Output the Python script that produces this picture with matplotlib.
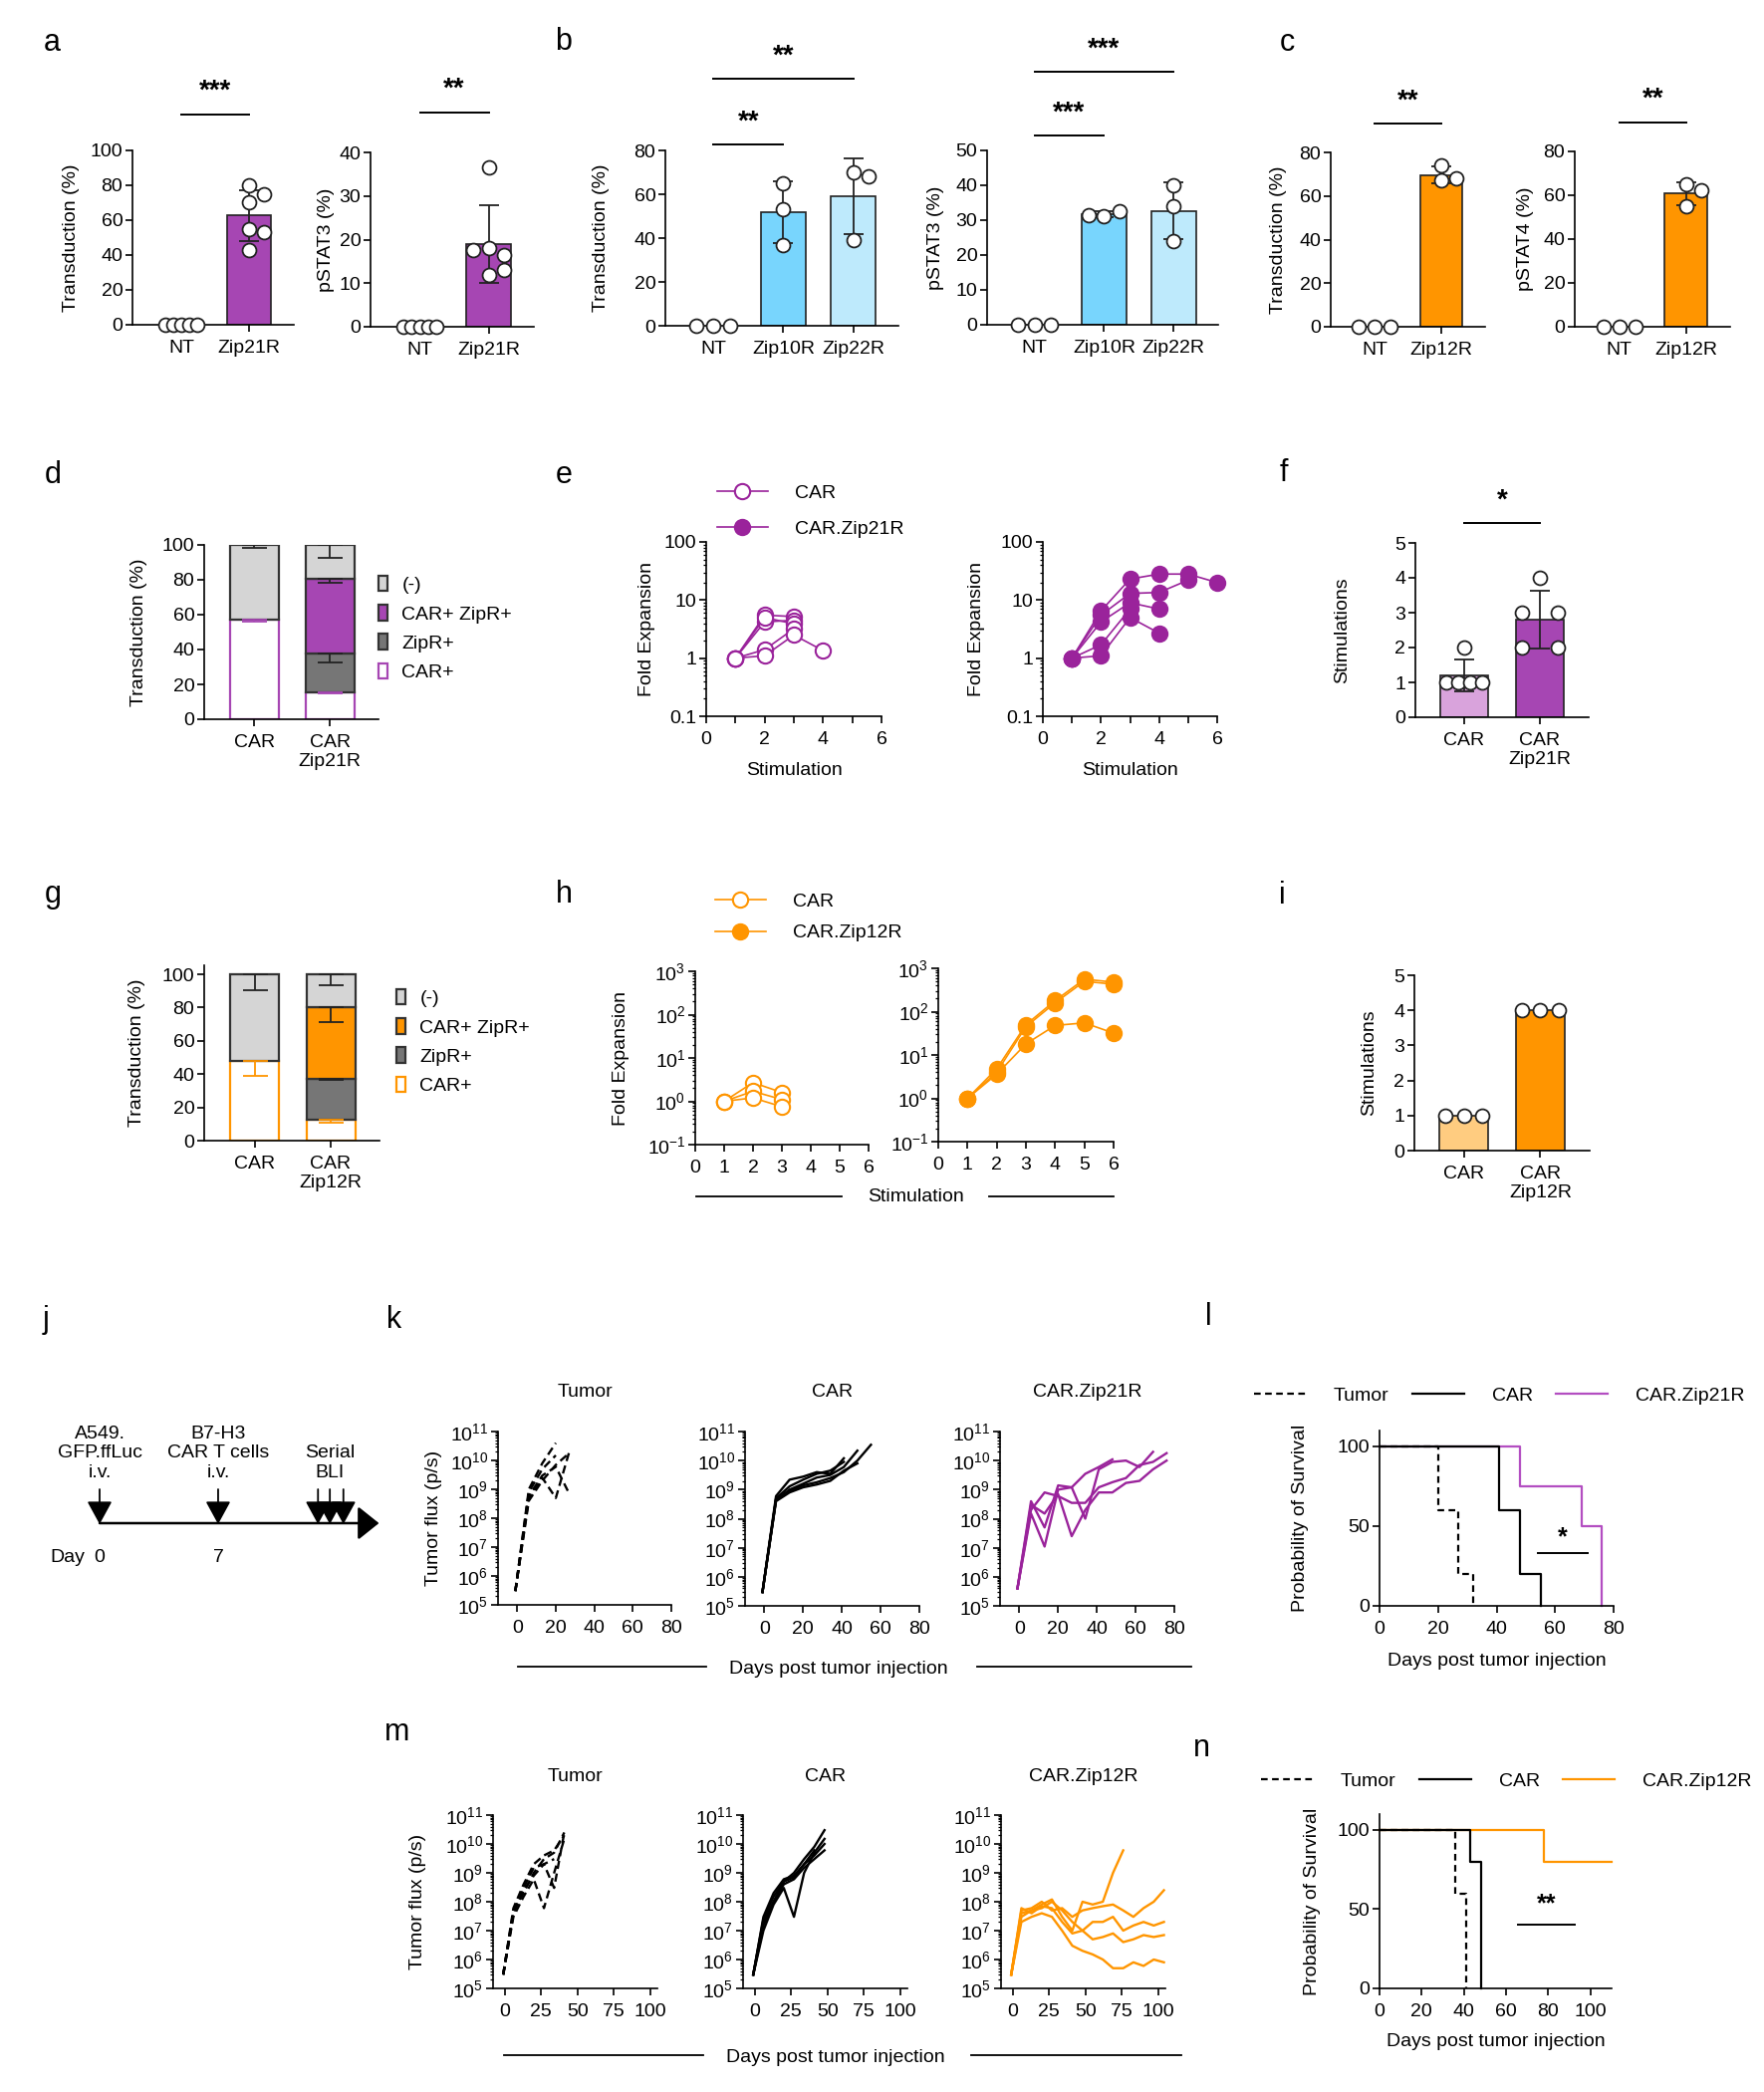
import numpy as np
import matplotlib
matplotlib.use("Agg")
import matplotlib.pyplot as plt
from matplotlib.lines import Line2D
from matplotlib.patches import Patch
from matplotlib.ticker import LogLocator, NullFormatter, LogFormatterMathtext

plt.rcParams['font.family'] = ['Liberation Sans', 'DejaVu Sans']
plt.rcParams['mathtext.fontset'] = 'custom'
plt.rcParams['mathtext.rm'] = 'Liberation Sans'
plt.rcParams['mathtext.default'] = 'regular'
plt.rcParams['axes.linewidth'] = 1.2
plt.rcParams['font.size'] = 14

FS = 14

# ---------------- data ----------------
# a
a_labels = ['NT', 'Zip21R']
a_trans = [[0, 0, 0, 0, 0], [80, 75, 70, 55, 53, 43]]
a_pstat3 = [[0, 0, 0, 0, 0], [36.5, 18, 16.5, 17.5, 12, 13]]
# b
b_labels = ['NT', 'Zip10R', 'Zip22R']
b_trans = [[0, 0, 0], [65, 53, 37], [70, 68, 39]]
b_pstat3 = [[0, 0, 0], [31, 32.5, 31.5], [40, 34, 24]]
# c
c_labels = ['NT', 'Zip12R']
c_trans = [[0, 0, 0], [74, 67, 68]]
c_pstat4 = [[0, 0, 0], [65, 62.5, 55]]
# d / g stacked bars (CAR+, ZipR+, CAR+ ZipR+, (-))
d_labels = ['CAR', 'CAR\nZip21R']
d_means = [[57, 15.5], [0, 22], [0, 43], [43, 19.5]]
d_errs = [[1, 0.5], [0, 5], [0, 2], [2, 7.5]]
g_labels = ['CAR', 'CAR\nZip12R']
g_means = [[48, 12.5], [0, 24.5], [0, 43], [52, 20]]
g_errs = [[9, 1.5], [0, 0.5], [0, 8.5], [9.5, 6.5]]
# e / h fold expansion per stimulation
stim = [1, 2, 3, 4, 5, 6]
e_car = [[1, 5.5, 5.2], [1, 4.2, 4.5], [1, 5.0, 3.9], [1, 1.4, 3.2], [1, 1.1, 2.5, 1.35]]
e_zip = [[1, 6.5, 23, 28, 28, 20], [1, 5.5, 13, 13.5, 22], [1, 4.2, 9, 7], [1, 1.7, 7], [1, 1.1, 5, 2.7]]
h_car = [[1, 2.7, 1.6], [1, 1.7, 1.1], [1, 1.2, 0.75]]
h_zip = [[1, 4.8, 50, 180, 560, 480], [1, 4.0, 45, 160, 500, 430], [1, 3.6, 18, 48, 55, 32]]
# f / i stimulations
f_labels = ['CAR', 'CAR\nZip21R']
f_stims = [[2, 1, 1, 1, 1], [4, 3, 3, 2, 2]]
i_labels = ['CAR', 'CAR\nZip12R']
i_stims = [[1, 1, 1], [4, 4, 4]]
# j schedule
j_events = ['A549.\nGFP.ffLuc\ni.v.', 'B7-H3\nCAR T cells\ni.v.', 'Serial\nBLI']
j_event_days = [0, 7, 13.6]
j_tick_days = [0, 7]
j_bli_days = [12.9, 13.6, 14.4]
# k tumor flux
k_days = [-1, 6, 13, 20, 27, 34, 41, 48, 55, 62, 69, 76]
k_tumor = [[3e5, 1e9, 8e9, 4e10],
           [3e5, 6e8, 3e9, 6e9, 7e8],
           [3e5, 5e8, 2.5e9, 5e8, 2e10],
           [3e5, 8e8, 5e9, 1.5e10],
           [3e5, 4e8, 2e9, 7e9, 1.8e10]]
k_car = [[3e5, 6e8, 2.2e9, 2.8e9, 4e9, 3.5e9, 1.2e10],
         [3e5, 5e8, 1.3e9, 2.2e9, 3.5e9, 4.5e9, 9e9],
         [3e5, 4.5e8, 1e9, 1.6e9, 2.6e9, 3.2e9, 6e9, 2.2e10],
         [3e5, 4e8, 8e8, 1.2e9, 1.5e9, 2e9, 4.5e9, 8e9],
         [3e5, 4.5e8, 9e8, 1.4e9, 1.8e9, 2.5e9, 4e9, 1e10, 3.5e10]]
k_zip = [[4e5, 1.5e8, 1.1e7, 1.0e9, 1.2e9, 3.5e9, 6e9, 1.1e10],
         [4e5, 4e8, 5e7, 1.4e9, 1.2e9, 1e8, 5e9, 9e9, 1e10, 6e9, 2e10],
         [4e5, 2e8, 8e8, 6e8, 3.5e8, 3.5e8, 1.2e9, 1.8e9, 2.5e9, 7e9, 9e9, 1.8e10],
         [4e5, 3e8, 1.5e8, 7e8, 2.5e7, 2e8, 8e8, 8e8, 1.7e9, 2e9, 5e9, 1e10]]
# l survival
l_tumor = ([0, 20, 27, 32], [100, 60, 20, 0])
l_car = ([0, 41, 48, 55], [100, 60, 20, 0])
l_zip = ([0, 48, 69, 76], [100, 75, 50, 0])
# m tumor flux
m_days = [-1, 6, 13, 20, 27, 34, 41, 48, 55, 62, 69, 76, 83, 90, 97, 104]
m_tumor = [[3e5, 5e7, 2e8, 1e9, 3e9, 5e9, 2.5e10],
           [3e5, 3e7, 1.5e8, 6e8, 6e7, 1e9, 1.5e10],
           [3e5, 4e7, 3e8, 1.5e9, 2e9, 3e8, 2.5e10],
           [3e5, 6e7, 4e8, 2e9, 4e9, 6e9, 2e10],
           [3e5, 4e7, 2.5e8, 8e8, 2e9, 3e9]]
m_car = [[3e5, 2e7, 1e8, 5e8, 1e9, 3e9, 8e9, 3e10],
         [3e5, 1e7, 8e7, 3e8, 3e7, 1e9, 5e9, 1.5e10],
         [3e5, 3e7, 2e8, 6e8, 8e8, 2e9, 4e9, 1e10],
         [3e5, 1.5e7, 1e8, 4e8, 6e8, 1.5e9, 3e9, 6e9],
         [3e5, 2.5e7, 1.5e8, 5e8, 7e8, 2e9, 6e9]]
m_zip = [[3e5, 4e7, 5e7, 8e7, 1.2e8, 3e7, 1e7, 1e8, 8e7, 1e8, 1e9, 6e9],
         [3e5, 5e7, 6e7, 1e8, 5e7, 6e7, 3e7, 5e7, 6e7, 7e7, 8e7, 5e7, 3e7, 6e7, 1e8, 2.5e8],
         [3e5, 3e7, 5e7, 6e7, 1e8, 5e7, 2e7, 1e7, 2e7, 2e7, 3e7, 1e7, 1.5e7, 2e7, 1.5e7, 2e7],
         [3e5, 6e7, 4e7, 7e7, 6e7, 2e7, 8e6, 1e7, 5e6, 6e6, 8e6, 4e6, 5e6, 7e6, 6e6, 7e6],
         [3e5, 2e7, 3e7, 4e7, 3e7, 1e7, 3e6, 2e6, 1.5e6, 1e6, 5e5, 5e5, 8e5, 6e5, 1e6, 8e5]]
# n survival
n_tumor = ([0, 36, 41], [100, 60, 0])
n_car = ([0, 43, 48], [100, 80, 0])
n_zip = ([0, 78, 110], [100, 80, 80])

# colours
PURPLE = '#A646B3'
PURPLE_LIGHT = '#D9A3DC'
PURPLE_LINE = '#9A239B'
PURPLE_SURV = '#B34EC1'
BLUE = '#78D5FD'
BLUE_LIGHT = '#BEEAFC'
ORANGE = '#FF9500'
ORANGE_LIGHT = '#FFCC80'
GRAY_LIGHT = '#D5D5D5'
GRAY_DARK = '#767676'
EDGE = '#222222'

W, H = 1771, 2100
fig = plt.figure(figsize=(W / 100, H / 100), dpi=100)


def px_ax(l, t, r, b):
    return fig.add_axes([l / W, 1 - b / H, (r - l) / W, (b - t) / H])


def ftext(x, y, s, **kw):
    fig.text(x / W, 1 - y / H, s, **kw)


def fline(x0, x1, y):
    fig.add_artist(Line2D([x0 / W, x1 / W], [1 - y / H, 1 - y / H], color='black', lw=1.3))


def style(ax):
    for s in ['top', 'right']:
        ax.spines[s].set_visible(False)
    ax.tick_params(direction='out', length=5, width=1.2, labelsize=FS, pad=2)
    ax.tick_params(axis='x', pad=6)
    ax.tick_params(which='minor', length=2.5, width=0.9)


def ylab(ax, text, xpx):
    p = ax.get_position()
    ax.set_ylabel(text, fontsize=FS, va='center')
    ax.yaxis.set_label_coords((xpx / W - p.x0) / p.width, 0.5)


def xlab(ax, text, ypx):
    p = ax.get_position()
    ax.set_xlabel(text, fontsize=FS, va='center')
    ax.xaxis.set_label_coords(0.5, ((1 - ypx / H) - p.y0) / p.height)


def title_at(ax, text, ypx):
    p = ax.get_position()
    ax.text(0.5, ((1 - ypx / H) - p.y0) / p.height, text, transform=ax.transAxes,
            ha='center', va='center', fontsize=FS)


def sig(ax, x0, x1, yline, ystar, text, size=20):
    ax.plot([x0, x1], [yline, yline], color='black', lw=1.4, clip_on=False)
    ax.text((x0 + x1) / 2, ystar, text, ha='center', va='center', fontsize=size,
            fontweight='bold', clip_on=False)


def swarm(ax, xc, vals, size=10):
    d = size * fig.dpi / 72
    tr = ax.transData
    ppx = tr.transform((1, 0))[0] - tr.transform((0, 0))[0]
    counts = {v: list(vals).count(v) for v in vals}
    seen = {}
    placed, xs = [], []
    for v in vals:
        y = tr.transform((0, v))[1]
        if counts[v] > 1:
            i = seen.get(v, 0)
            seen[v] = i + 1
            off = (-0.24 + 0.48 * i / (counts[v] - 1)) * ppx
        else:
            off, n, step = 0.0, 0, 0.55 * d
            while any(np.hypot(off - px, y - py) < d * 0.98 for px, py in placed):
                n += 1
                off = ((n + 1) // 2) * step * (1 if n % 2 else -1)
        placed.append((off, y))
        xs.append(xc + off / ppx)
    ax.scatter(xs, vals, s=size ** 2, facecolor='white', edgecolor=EDGE, linewidth=1.3,
               zorder=5, clip_on=False)


def bar_panel(ax, groups, colors, labels, xlim, ylim, yticks):
    style(ax)
    ax.set_xlim(*xlim)
    ax.set_ylim(*ylim)
    ax.set_yticks(yticks)
    x = np.arange(len(groups))
    ax.set_xticks(x, labels)
    for xi, g, c in zip(x, groups, colors):
        m = np.mean(g)
        sd = np.std(g, ddof=1) if len(g) > 1 else 0
        if m > 0:
            ax.bar(xi, m, width=0.64, color=c, edgecolor=EDGE, linewidth=1.2, zorder=2)
        if sd > 0:
            ax.errorbar(xi, m, yerr=sd, color=EDGE, capsize=7, elinewidth=1.3,
                        capthick=1.3, zorder=3)
        swarm(ax, xi, g)
    for t in ax.get_xticklabels():
        t.set_linespacing(1.15)


def stacked_panel(ax, means, errs, labels, accent, legend_xy):
    style(ax)
    ax.set_xlim(-0.66, 1.64)
    x = np.arange(2)
    fills = ['white', GRAY_DARK, accent, GRAY_LIGHT]
    edges = [accent, '#333333', '#333333', '#333333']
    names = ['CAR+', 'ZipR+', 'CAR+ ZipR+', '(-)']
    bottom = np.zeros(2)
    for vals, er, fc, ec in zip(means, errs, fills, edges):
        vals = np.array(vals, float)
        for xi in x:
            if vals[xi] > 0:
                ax.bar(xi, vals[xi], bottom=bottom[xi], width=0.64, color=fc, edgecolor=ec,
                       linewidth=1.6, zorder=2)
                top = bottom[xi] + vals[xi]
                if er[xi] > 0:
                    ax.errorbar(xi, top, yerr=[[er[xi]], [0]], color=(ec if fc == 'white' else EDGE),
                                capsize=9, elinewidth=1.3, capthick=1.3, zorder=3)
        bottom = bottom + vals
    ax.set_yticks([0, 20, 40, 60, 80, 100])
    ax.set_xticks(x, labels)
    for t in ax.get_xticklabels():
        t.set_linespacing(1.15)
    handles = [Patch(facecolor=f, edgecolor=e, linewidth=1.6, label=n)
               for f, e, n in zip(fills, edges, names)][::-1]
    fig.legend(handles=handles, loc='center left', bbox_to_anchor=(legend_xy[0] / W, 1 - legend_xy[1] / H),
               frameon=False, fontsize=FS, handlelength=0.45, handleheight=0.85, handletextpad=0.75,
               labelspacing=0.55, borderpad=0, borderaxespad=0)


def log_axes(ax, ylim, ticks, labels=None):
    style(ax)
    ax.set_yscale('log')
    ax.set_ylim(*ylim)
    if labels is None:
        ax.set_yticks(ticks)
        ax.yaxis.set_major_formatter(LogFormatterMathtext())
    else:
        ax.set_yticks(ticks, labels)
    ax.yaxis.set_minor_locator(LogLocator(base=10, subs=np.arange(2, 10), numticks=50))
    ax.yaxis.set_minor_formatter(NullFormatter())


def fold_panel(ax, series, color, filled, xlabels_all, ylim, ticks, labels=None):
    log_axes(ax, ylim, ticks, labels)
    ax.set_xlim(0, 6)
    ax.set_xticks(range(7), [str(i) if (xlabels_all or i % 2 == 0) else '' for i in range(7)])
    for vals in series:
        ax.plot(stim[:len(vals)], vals, '-o', color=color, lw=1.2, ms=11, mew=1.5,
                mec=color, mfc=(color if filled else 'white'), clip_on=False, zorder=3)


def flux_panel(ax, days, series, color, dashed, xlim, xticks):
    log_axes(ax, (1e5, 1e11), [1e5, 1e6, 1e7, 1e8, 1e9, 1e10, 1e11])
    ax.set_xlim(*xlim)
    ax.set_xticks(xticks)
    for vals in series:
        ax.plot(days[:len(vals)], vals, color=color, lw=1.7,
                linestyle=((0, (3.5, 2)) if dashed else '-'), clip_on=False)


def survival_panel(ax, curves, colors, styles, xlim, xticks):
    style(ax)
    for (t, s), c, ls in zip(curves, colors, styles):
        ax.step(t, s, where='post', color=c, lw=1.6, linestyle=ls, clip_on=False)
    ax.set_xlim(*xlim)
    ax.set_ylim(0, 110)
    ax.set_xticks(xticks)
    ax.set_yticks([0, 50, 100])


# ---------------- panel letters ----------------
for s, x, y in [('a', 52, 43), ('b', 566, 42), ('c', 1292, 43), ('d', 53, 477), ('e', 566, 477),
                ('f', 1289, 475), ('g', 53, 898), ('h', 566, 898), ('i', 1287, 899),
                ('j', 46, 1325), ('k', 396, 1325), ('l', 1213, 1322), ('m', 399, 1739),
                ('n', 1206, 1755)]:
    ftext(x, y, s, fontsize=22, ha='center', va='center')

# ---------------- a ----------------
ax = px_ax(133, 151, 295, 326)
bar_panel(ax, a_trans, ['white', PURPLE], a_labels, (-0.72, 1.66), (0, 100), [0, 20, 40, 60, 80, 100])
ylab(ax, 'Transduction (%)', 71)
sig(ax, 0, 1, 120.6, 133.7, '***')

ax = px_ax(372, 153, 536, 328)
bar_panel(ax, a_pstat3, ['white', PURPLE], a_labels, (-0.72, 1.66), (0, 40), [0, 10, 20, 30, 40])
ylab(ax, 'pSTAT3 (%)', 327)
sig(ax, 0, 1, 49.1, 54.4, '**')

# ---------------- b ----------------
ax = px_ax(668, 151, 902, 327)
bar_panel(ax, b_trans, ['white', BLUE, BLUE_LIGHT], b_labels, (-0.68, 2.64), (0, 80), [0, 20, 40, 60, 80])
ylab(ax, 'Transduction (%)', 603)
sig(ax, 0, 1, 82.7, 92.7, '**')
sig(ax, 0, 2, 112.7, 122.7, '**')

ax = px_ax(991, 151, 1223, 326)
bar_panel(ax, b_pstat3, ['white', BLUE, BLUE_LIGHT], b_labels, (-0.68, 2.64), (0, 50), [0, 10, 20, 30, 40, 50])
ylab(ax, 'pSTAT3 (%)', 939)
sig(ax, 0, 1, 54.3, 60.6, '***')
sig(ax, 0, 2, 72.6, 78.9, '***')

# ---------------- c ----------------
ax = px_ax(1336, 153, 1491, 328)
bar_panel(ax, c_trans, ['white', ORANGE], c_labels, (-0.66, 1.66), (0, 80), [0, 20, 40, 60, 80])
ylab(ax, 'Transduction (%)', 1283)
sig(ax, 0, 1, 93.3, 103.3, '**')

ax = px_ax(1581, 152, 1737, 328)
bar_panel(ax, c_pstat4, ['white', ORANGE], c_labels, (-0.67, 1.66), (0, 80), [0, 20, 40, 60, 80])
ylab(ax, 'pSTAT4 (%)', 1531)
sig(ax, 0, 1, 93.2, 103.6, '**')

# ---------------- d ----------------
ax = px_ax(205, 547, 380, 722)
ax.set_ylim(0, 100)
stacked_panel(ax, d_means, d_errs, d_labels, PURPLE, (380, 631))
ylab(ax, 'Transduction (%)', 140)

# ---------------- e ----------------
ax = px_ax(709, 544, 885, 719)
fold_panel(ax, e_car, PURPLE_LINE, False, False, (0.1, 100), [0.1, 1, 10, 100], ['0.1', '1', '10', '100'])
ylab(ax, 'Fold Expansion', 649)
xlab(ax, 'Stimulation', 773)
ax2 = px_ax(1047, 544, 1222, 719)
fold_panel(ax2, e_zip, PURPLE_LINE, True, False, (0.1, 100), [0.1, 1, 10, 100], ['0.1', '1', '10', '100'])
ylab(ax2, 'Fold Expansion', 980)
xlab(ax2, 'Stimulation', 773)
e_handles = [Line2D([], [], color=PURPLE_LINE, marker='o', ms=11, mew=1.5, mfc='white', lw=1.2, label='CAR'),
             Line2D([], [], color=PURPLE_LINE, marker='o', ms=11, mew=1.5, lw=1.2, label='CAR.Zip21R')]
fig.legend(handles=e_handles, loc='center left', bbox_to_anchor=(720 / W, 1 - 513 / H), frameon=False,
           fontsize=FS, handlelength=2.6, handletextpad=1.4, labelspacing=0.95, borderpad=0,
           borderaxespad=0, numpoints=1)

# ---------------- f ----------------
ax = px_ax(1421, 545, 1595, 720)
bar_panel(ax, f_stims, [PURPLE_LIGHT, PURPLE], f_labels, (-0.645, 1.645), (0, 5), [0, 1, 2, 3, 4, 5])
ylab(ax, 'Stimulations', 1348)
sig(ax, 0, 1, 5.57, 6.2, '*')

# ---------------- g ----------------
ax = px_ax(205, 969, 381, 1145)
ax.set_ylim(0, 105.4)
stacked_panel(ax, g_means, g_errs, g_labels, ORANGE, (398, 1046))
ylab(ax, 'Transduction (%)', 138)

# ---------------- h ----------------
h_ticks = [1e-1, 1, 1e1, 1e2, 1e3]
ax = px_ax(698, 975, 872, 1149)
fold_panel(ax, h_car, ORANGE, False, True, (0.1, 1000), h_ticks)
ylab(ax, 'Fold Expansion', 623)
ax2 = px_ax(942, 972, 1118, 1146)
fold_panel(ax2, h_zip, ORANGE, True, True, (0.1, 1000), h_ticks)
ftext(919, 1202, 'Stimulation', fontsize=FS, ha='center', va='center')
fline(699, 845, 1201)
fline(993, 1118, 1201)
h_handles = [Line2D([], [], color=ORANGE, marker='o', ms=11, mew=1.5, mfc='white', lw=1.2, label='CAR'),
             Line2D([], [], color=ORANGE, marker='o', ms=11, mew=1.5, lw=1.2, label='CAR.Zip12R')]
fig.legend(handles=h_handles, loc='center left', bbox_to_anchor=(718 / W, 1 - 921 / H), frameon=False,
           fontsize=FS, handlelength=2.6, handletextpad=1.4, labelspacing=0.7, borderpad=0,
           borderaxespad=0, numpoints=1)

# ---------------- i ----------------
ax = px_ax(1420, 979, 1596, 1155)
bar_panel(ax, i_stims, [ORANGE_LIGHT, ORANGE], i_labels, (-0.645, 1.645), (0, 5), [0, 1, 2, 3, 4, 5])
ylab(ax, 'Stimulations', 1375)

# ---------------- j (schedule) ----------------
ax = px_ax(40, 1400, 400, 1590)
ax.set_xlim(-3.53, 17.65)
ax.set_ylim(1590, 1400)
ax.axis('off')
ax.annotate('', xy=(16.5, 1529), xytext=(0, 1529),
            arrowprops=dict(arrowstyle='-|>,head_length=0.5,head_width=0.4', color='black', lw=1.8,
                            mutation_scale=26, shrinkA=0, shrinkB=0))
for dday in [j_event_days[0], j_event_days[1]] + j_bli_days:
    ax.annotate('', xy=(dday, 1530), xytext=(dday, 1495),
                arrowprops=dict(arrowstyle='-|>,head_length=0.55,head_width=0.3', color='black', lw=1.3,
                                mutation_scale=26, shrinkA=0, shrinkB=0))
for txt, dday in zip(j_events, j_event_days):
    ax.text(dday, 1487, txt, ha='center', va='bottom', fontsize=FS, linespacing=1.2)
ax.text(-1.9, 1563, 'Day', ha='center', va='center', fontsize=FS)
for dday in j_tick_days:
    ax.text(dday, 1564, str(dday), ha='center', va='center', fontsize=FS)

# ---------------- k ----------------
ax = px_ax(500, 1437, 674, 1611)
flux_panel(ax, k_days, k_tumor, 'black', True, (-10, 80), [0, 20, 40, 60, 80])
ylab(ax, 'Tumor flux (p/s)', 436)
title_at(ax, 'Tumor', 1397)
ax = px_ax(748, 1437, 923, 1612)
flux_panel(ax, k_days, k_car, 'black', False, (-10, 80), [0, 20, 40, 60, 80])
title_at(ax, 'CAR', 1397)
ax = px_ax(1004, 1437, 1179, 1612)
flux_panel(ax, k_days, k_zip, PURPLE_LINE, False, (-10, 80), [0, 20, 40, 60, 80])
title_at(ax, 'CAR.Zip21R', 1397)
ftext(842, 1676, 'Days post tumor injection', fontsize=FS, ha='center', va='center')
fline(520, 709, 1673)
fline(981, 1196, 1673)

# ---------------- l ----------------
ax = px_ax(1385, 1436, 1620, 1612)
survival_panel(ax, [l_zip, l_car, l_tumor], [PURPLE_SURV, 'black', 'black'],
               ['-', '-', (0, (3, 2))], (0, 80), [0, 20, 40, 60, 80])
ylab(ax, 'Probability of Survival', 1306)
xlab(ax, 'Days post tumor injection', 1667)
sig(ax, 54, 71, 33, 43, '*', size=18)
l_handles = [Line2D([], [], color='black', lw=1.6, linestyle=(0, (3, 2)), label='Tumor'),
             Line2D([], [], color='black', lw=1.6, label='CAR'),
             Line2D([], [], color=PURPLE_SURV, lw=1.6, label='CAR.Zip21R')]
fig.legend(handles=l_handles, loc='center left', bbox_to_anchor=(1259 / W, 1 - 1401 / H), ncol=3,
           frameon=False, fontsize=FS, handlelength=2.7, handletextpad=1.4, columnspacing=1.2,
           borderpad=0, borderaxespad=0)

# ---------------- m ----------------
ax = px_ax(495, 1822, 660, 1996)
flux_panel(ax, m_days, m_tumor, 'black', True, (-8, 105), [0, 25, 50, 75, 100])
ylab(ax, 'Tumor flux (p/s)', 419)
title_at(ax, 'Tumor', 1783)
ax = px_ax(746, 1822, 911, 1996)
flux_panel(ax, m_days, m_car, 'black', False, (-8, 105), [0, 25, 50, 75, 100])
title_at(ax, 'CAR', 1783)
ax = px_ax(1005, 1822, 1170, 1996)
flux_panel(ax, m_days, m_zip, ORANGE, False, (-8, 105), [0, 25, 50, 75, 100])
title_at(ax, 'CAR.Zip12R', 1783)
ftext(839, 2066, 'Days post tumor injection', fontsize=FS, ha='center', va='center')
fline(506, 706, 2063)
fline(975, 1186, 2063)

# ---------------- n ----------------
ax = px_ax(1385, 1821, 1618, 1996)
survival_panel(ax, [n_zip, n_car, n_tumor], [ORANGE, 'black', 'black'],
               ['-', '-', (0, (3, 2))], (0, 110), [0, 20, 40, 60, 80, 100])
ylab(ax, 'Probability of Survival', 1317)
xlab(ax, 'Days post tumor injection', 2050)
sig(ax, 65.6, 92.5, 40, 53, '**', size=18)
n_handles = [Line2D([], [], color='black', lw=1.6, linestyle=(0, (3, 2)), label='Tumor'),
             Line2D([], [], color='black', lw=1.6, label='CAR'),
             Line2D([], [], color=ORANGE, lw=1.6, label='CAR.Zip12R')]
fig.legend(handles=n_handles, loc='center left', bbox_to_anchor=(1266 / W, 1 - 1788 / H), ncol=3,
           frameon=False, fontsize=FS, handlelength=2.7, handletextpad=1.4, columnspacing=1.2,
           borderpad=0, borderaxespad=0)

fig.savefig('out.png', dpi=100)
